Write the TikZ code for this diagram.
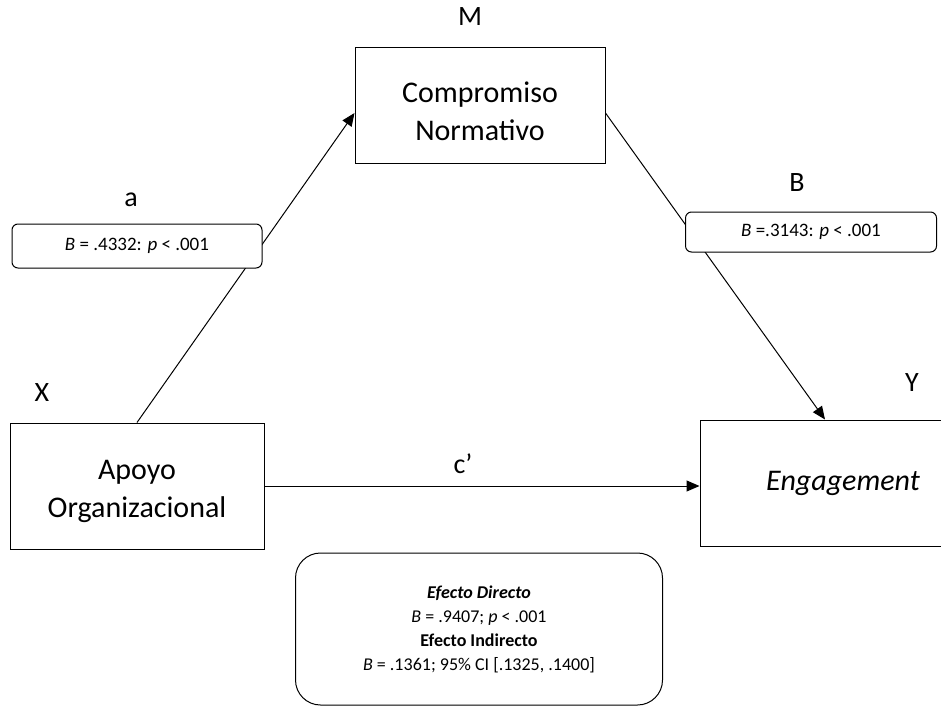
\documentclass[tikz,border=0pt]{standalone}
\usepackage{fontspec}
\setmainfont{Carlito}
\usetikzlibrary{arrows.meta}
\begin{document}
\begin{tikzpicture}[x=1pt,y=-1pt,
    var/.style={draw,line width=1pt,fill=white,align=center,font=\fontsize{30}{38}\selectfont},
    coef/.style={draw,line width=1pt,fill=white,rounded corners=6pt,font=\fontsize{19}{22}\selectfont},
    lbl/.style={font=\fontsize{28}{30}\selectfont},
    conn/.style={line width=1pt,-{Triangle[length=13pt,width=11pt]}}]
    \useasboundingbox (0,0) rectangle (941,707);
    %% Variables
    \node[var,minimum width=254pt,minimum height=126pt] (X) at (137,486) {\rule{0pt}{30pt}Apoyo\\Organizacional};
    \node[var,minimum width=250pt,minimum height=116pt] (M) at (480,105) {\rule{0pt}{34pt}Compromiso\\Normativo};
    \node[var,minimum width=286pt,minimum height=126pt] (Y) at (843,483) {\textit{Engagement}};
    %% Paths
    \draw[conn] (X.north) -- ([yshift=-8pt]M.west);
    \draw[conn] ([yshift=-8pt]M.east) -- ([xshift=-18pt]Y.north);
    \draw[conn] (X.east) -- (X.east -| Y.west);
    %% Coefficients
    \node[coef,minimum width=250pt,minimum height=44pt] (ca) at (137,246) {\textit{B} = .4332: \textit{p} < .001};
    \node[coef,minimum width=251pt,minimum height=40pt] (cb) at (811,232) {\textit{B} =.3143: \textit{p} < .001};
    \node[coef,rounded corners=25pt,minimum width=367pt,minimum height=152pt,align=center,font=\fontsize{18}{24}\selectfont] (eff) at (479,629)
        {\textbf{\textit{Efecto Directo}}\\\textit{B} = .9407; \textit{p} < .001\\\textbf{Efecto Indirecto}\\\textit{B} = .1361; 95\% CI [.1325, .1400]};
    %% Labels
    \node[lbl] (lx) at (42,393) {X};
    \node[lbl] (lm) at (470,17) {M};
    \node[lbl] (ly) at (912,383) {Y};
    \node[lbl] (la) at (131,200) {a};
    \node[lbl] (lb) at (797,183) {B};
    \node[lbl] (lc) at (463,464) {c’};
\end{tikzpicture}
\end{document}
